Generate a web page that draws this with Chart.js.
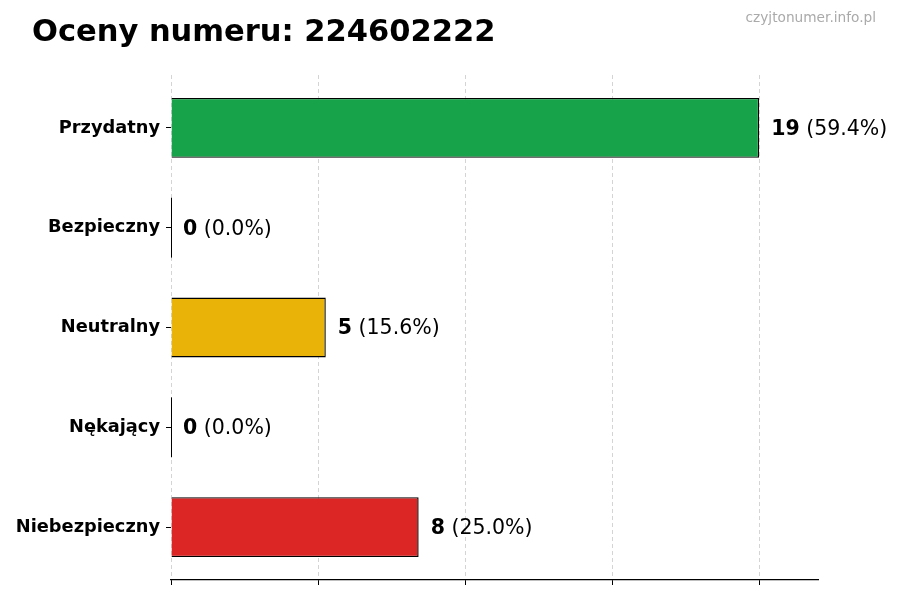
<!DOCTYPE html>
<html><head><meta charset="utf-8">
<script src="https://cdn.jsdelivr.net/npm/chart.js@4"></script>
<style>html,body{margin:0;padding:0;background:#fff}#wrap{width:900px;height:600px;position:relative}</style>
</head><body><div id="wrap"><canvas id="c" width="900" height="600"></canvas></div>
<script>
const categories = ["Przydatny", "Bezpieczny", "Neutralny", "Nękający", "Niebezpieczny"];
const counts = [19, 0, 5, 0, 8];
const barColors = ["#17a34a", "#9ca3af", "#eab308", "#f97316", "#dc2626"];
const titleText = "Oceny numeru: 224602222";
const watermark = "czyjtonumer.info.pl";

const total = counts.reduce((a, b) => a + b, 0);
const maxVal = Math.max(...counts);
const FONT = "'DejaVu Sans', sans-serif";

const overlay = {
  id: 'overlay',
  afterDatasetsDraw(chart) {
    const ctx = chart.ctx;
    const meta = chart.getDatasetMeta(0);
    ctx.save();
    meta.data.forEach((el, i) => {
      const v = counts[i];
      if (v === 0) {
        const h = el.height;
        ctx.strokeStyle = '#000';
        ctx.lineWidth = 1;
        ctx.beginPath();
        ctx.moveTo(el.base + 0.5, el.y - h / 2);
        ctx.lineTo(el.base + 0.5, el.y + h / 2);
        ctx.stroke();
      }
      const x0 = el.x + 12;
      const y0 = el.y + 1.5;
      ctx.textBaseline = 'middle';
      ctx.textAlign = 'left';
      ctx.fillStyle = '#000';
      ctx.font = "bold 20.5px " + FONT;
      const s1 = String(v);
      ctx.fillText(s1, x0, y0);
      const w1 = ctx.measureText(s1).width;
      ctx.font = "20.5px " + FONT;
      ctx.fillText(" (" + (v / total * 100).toFixed(1) + "%)", x0 + w1, y0);
    });
    ctx.restore();
  },
  afterDraw(chart) {
    const ctx = chart.ctx;
    ctx.save();
    ctx.fillStyle = '#000';
    ctx.font = "bold 30.5px " + FONT;
    ctx.textAlign = 'left';
    ctx.textBaseline = 'alphabetic';
    ctx.fillText(titleText, 32, 41);
    ctx.fillStyle = '#aaaaaa';
    ctx.font = "13.7px " + FONT;
    ctx.textAlign = 'right';
    ctx.fillText(watermark, 876, 22);
    ctx.restore();
  }
};

new Chart(document.getElementById('c'), {
  type: 'bar',
  data: {
    datasets: [{
      data: counts.map((v, i) => ({ x: v, y: i })),
      backgroundColor: barColors,
      borderColor: '#000',
      borderWidth: 1.4,
      barPercentage: 0.6,
      categoryPercentage: 1.0
    }]
  },
  options: {
    indexAxis: 'y',
    responsive: false,
    animation: false,
    devicePixelRatio: 1,
    layout: { padding: { top: 75, right: 82, bottom: 0, left: 0 } },
    plugins: { legend: { display: false }, tooltip: { enabled: false }, title: { display: false } },
    scales: {
      x: {
        type: 'linear',
        min: 0,
        max: maxVal * 1.1,
        offset: false,
        afterBuildTicks(scale) {
          scale.ticks = [0, 1, 2, 3, 4].map(i => ({ value: maxVal * i / 4 }));
        },
        afterFit(scale) { scale.height = 20; },
        ticks: { display: false },
        grid: {
          color: '#d4d4d4',
          tickColor: '#000',
          tickBorderDash: [],
          tickLength: 5,
          lineWidth: 1,
          offset: false
        },
        border: { display: true, color: '#000', width: 1.2, dash: [4, 3] }
      },
      y: {
        type: 'linear',
        reverse: true,
        offset: false,
        min: -0.53,
        max: categories.length - 1 + 0.53,
        afterBuildTicks(scale) {
          scale.ticks = categories.map((c, i) => ({ value: i }));
        },
        afterFit(scale) { scale.width = 171; },
        ticks: {
          color: '#000',
          font: { family: "'DejaVu Sans'", weight: 'bold', size: 17.8 },
          padding: 6,
          callback: (v) => categories[v]
        },
        grid: { drawOnChartArea: false, drawTicks: true, tickLength: 5, tickColor: '#000', offset: false },
        border: { display: false }
      }
    }
  },
  plugins: [overlay]
});
</script></body></html>
